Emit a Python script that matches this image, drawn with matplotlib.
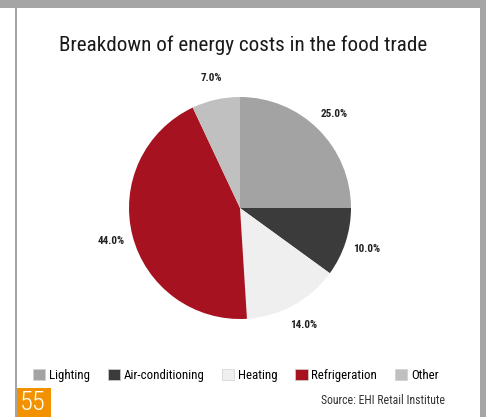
import matplotlib
matplotlib.use("Agg")
import matplotlib.pyplot as plt
from matplotlib import font_manager
from matplotlib.patches import Rectangle

# energy cost shares, clockwise from 12 o'clock
categories = ["Lighting", "Air-conditioning", "Heating", "Refrigeration", "Other"]
shares = [25.0, 10.0, 14.0, 44.0, 7.0]
colors = ["#a3a3a3", "#3b3b3b", "#efefef", "#a6121f", "#c0c0c0"]

title = "Breakdown of energy costs in the food trade"
source = "Source: EHI Retail Institute"
page_no = "55"

installed = {f.name for f in font_manager.fontManager.ttflist}
narrow = next((n for n in ["Roboto Condensed", "Liberation Sans Narrow", "Arial Narrow", "Roboto"]
               if n in installed), "Liberation Sans")

W, H = 486, 417
fig = plt.figure(figsize=(W / 100, H / 100), dpi=100)
fig.patch.set_facecolor("white")
renderer = fig.canvas.get_renderer()


def px(x, y, w, h):
    # pixel box (top-left origin) -> figure fraction rect
    return [x / W, 1 - (y + h) / H, w / W, h / H]


def fit_width(txt, width_px):
    # shrink/grow a text so it spans the given pixel width
    w = txt.get_window_extent(renderer).width
    txt.set_fontsize(txt.get_fontsize() * width_px / w)


# page frame
border = "#a5a5a5"
for x, y, w, h in [(0, 0, W, 8), (15, 0, 2, H), (480, 0, 6, H)]:
    l, b, ww, hh = px(x, y, w, h)
    fig.patches.append(Rectangle((l, b), ww, hh, transform=fig.transFigure,
                                 facecolor=border, edgecolor="none", zorder=0))

# page number tab
l, b, ww, hh = px(17, 388, 34, 29)
fig.patches.append(Rectangle((l, b), ww, hh, transform=fig.transFigure,
                             facecolor="#f39200", edgecolor="none"))
fig.text(20 / W, 1 - 403 / H, page_no, color="white", fontsize=19,
         family=narrow, fontweight="light", va="center", ha="left")

t = fig.text(243 / W, 1 - 45 / H, title, fontsize=16, family=narrow,
             color="#1a1a1a", ha="center", va="center")
fit_width(t, 370)

r = 111
ax = fig.add_axes(px(240 - r, 208 - r, 2 * r, 2 * r))
wedges, _, pcts = ax.pie(shares, colors=colors, startangle=90, counterclock=False,
                         autopct="%.1f%%", pctdistance=1.2,
                         wedgeprops=dict(linewidth=0))
for p in pcts:
    p.set_fontsize(8)
    p.set_fontweight("bold")
    p.set_color("#222222")
    p.set_family(narrow)
ax.set_xlim(-1, 1)
ax.set_ylim(-1, 1)
ax.set_aspect("equal")
ax.axis("off")

leg = fig.legend(wedges, categories, loc="center left", ncol=5,
                 bbox_to_anchor=(33 / W, 1 - 375.5 / H), frameon=False,
                 prop=dict(family=narrow, size=9.3),
                 handlelength=0.95, handleheight=0.95, handletextpad=0.3,
                 columnspacing=1.35, borderaxespad=0, borderpad=0)
for h in leg.legend_handles:
    h.set_edgecolor("#d0d0d0")
    h.set_linewidth(0.5)

s = fig.text(445 / W, 1 - 401 / H, source, fontsize=8, family=narrow,
             color="#333333", ha="right", va="center")
fit_width(s, 123)

fig.savefig("out.png", dpi=100)
